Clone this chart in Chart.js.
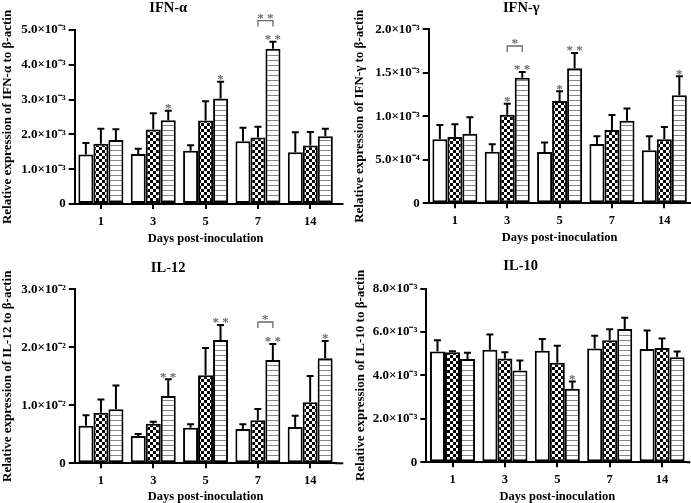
<!DOCTYPE html>
<html>
<head>
<meta charset="utf-8">
<script src="https://cdn.jsdelivr.net/npm/chart.js@4.4.0/dist/chart.umd.min.js"></script>
<style>
  html, body { margin: 0; padding: 0; background: #fff; }
  #wrap { position: relative; width: 691px; height: 503px; overflow: hidden; }
  canvas { position: absolute; }
</style>
</head>
<body>
<div id="wrap">
  <canvas id="c1" width="345" height="250" style="left:0;top:0"></canvas>
  <canvas id="c2" width="346" height="250" style="left:345px;top:0"></canvas>
  <canvas id="c3" width="345" height="253" style="left:0;top:250px"></canvas>
  <canvas id="c4" width="346" height="253" style="left:345px;top:250px"></canvas>
</div>
<script>
// Days post-inoculation (shared x categories)
const days = ['1', '3', '5', '7', '14'];

// IFN-alpha
const ifnaWhite = [1.42e-3, 1.44e-3, 1.53e-3, 1.80e-3, 1.49e-3];
const ifnaWhiteErr = [0.33e-3, 0.15e-3, 0.16e-3, 0.39e-3, 0.57e-3];
const ifnaCheck = [1.73e-3, 2.14e-3, 2.40e-3, 1.91e-3, 1.68e-3];
const ifnaCheckErr = [0.43e-3, 0.47e-3, 0.55e-3, 0.31e-3, 0.39e-3];
const ifnaStripe = [1.84e-3, 2.41e-3, 3.03e-3, 4.46e-3, 1.95e-3];
const ifnaStripeErr = [0.31e-3, 0.27e-3, 0.48e-3, 0.20e-3, 0.21e-3];
const ifnaCheckSig = ['', '', '', '', ''];
const ifnaStripeSig = ['', '*', '*', '**', ''];
const ifnaTicks = [0, 1e-3, 2e-3, 3e-3, 4e-3, 5e-3];
const ifnaTickLabels = ['0', '1.0×10⁻³', '2.0×10⁻³', '3.0×10⁻³', '4.0×10⁻³', '5.0×10⁻³'];

// IFN-gamma
const ifngWhite = [0.735e-3, 0.593e-3, 0.59e-3, 0.682e-3, 0.61e-3];
const ifngWhiteErr = [0.165e-3, 0.085e-3, 0.11e-3, 0.088e-3, 0.16e-3];
const ifngCheck = [0.762e-3, 1.019e-3, 1.176e-3, 0.843e-3, 0.735e-3];
const ifngCheckErr = [0.146e-3, 0.126e-3, 0.111e-3, 0.172e-3, 0.142e-3];
const ifngStripe = [0.80e-3, 1.444e-3, 1.551e-3, 0.95e-3, 1.241e-3];
const ifngStripeErr = [0.188e-3, 0.066e-3, 0.176e-3, 0.14e-3, 0.219e-3];
const ifngCheckSig = ['', '*', '*', '', ''];
const ifngStripeSig = ['', '**', '**', '', '*'];
const ifngTicks = [0, 0.5e-3, 1.0e-3, 1.5e-3, 2.0e-3];
const ifngTickLabels = ['0', '5.0×10⁻⁴', '1.0×10⁻³', '1.5×10⁻³', '2.0×10⁻³'];

// IL-12
const il12White = [0.648e-2, 0.47e-2, 0.614e-2, 0.59e-2, 0.626e-2];
const il12WhiteErr = [0.182e-2, 0.035e-2, 0.058e-2, 0.082e-2, 0.194e-2];
const il12Check = [0.872e-2, 0.683e-2, 1.517e-2, 0.741e-2, 1.052e-2];
const il12CheckErr = [0.228e-2, 0.034e-2, 0.473e-2, 0.195e-2, 0.453e-2];
const il12Stripe = [0.93e-2, 1.16e-2, 2.126e-2, 1.78e-2, 1.81e-2];
const il12StripeErr = [0.41e-2, 0.29e-2, 0.259e-2, 0.277e-2, 0.298e-2];
const il12CheckSig = ['', '', '', '', ''];
const il12StripeSig = ['', '**', '**', '**', '*'];
const il12Ticks = [0, 1e-2, 2e-2, 3e-2];
const il12TickLabels = ['0', '1.0×10⁻²', '2.0×10⁻²', '3.0×10⁻²'];

// IL-10
const il10White = [5.10e-3, 5.18e-3, 5.13e-3, 5.24e-3, 5.22e-3];
const il10WhiteErr = [0.52e-3, 0.70e-3, 0.54e-3, 0.58e-3, 0.85e-3];
const il10Check = [5.07e-3, 4.78e-3, 4.58e-3, 5.62e-3, 5.26e-3];
const il10CheckErr = [0.04e-3, 0.28e-3, 0.78e-3, 0.51e-3, 0.44e-3];
const il10Stripe = [4.75e-3, 4.23e-3, 3.38e-3, 6.14e-3, 4.83e-3];
const il10StripeErr = [0.29e-3, 0.46e-3, 0.34e-3, 0.51e-3, 0.27e-3];
const il10CheckSig = ['', '', '', '', ''];
const il10StripeSig = ['', '', '*', '', ''];
const il10Ticks = [0, 2e-3, 4e-3, 6e-3, 8e-3];
const il10TickLabels = ['0', '2.0×10⁻³', '4.0×10⁻³', '6.0×10⁻³', '8.0×10⁻³'];

// brackets between check and stripe bars: [day index, label, height]
const ifnaBrackets = [[3, '**', 5.27e-3]];
const ifngBrackets = [[1, '*', 1.808e-3]];
const il12Brackets = [[3, '*', 2.436e-2]];
const il10Brackets = [];

const SERIF = '"Liberation Serif", "Times New Roman", serif';
const SIG_COLOR = '#6a6a6a';

function checkerPattern() {
  const c = document.createElement('canvas');
  c.width = 6; c.height = 6;
  const g = c.getContext('2d');
  g.fillStyle = '#fff';
  g.fillRect(0, 0, 6, 6);
  g.fillStyle = '#000';
  g.fillRect(0, 0, 3, 3);
  g.fillRect(3, 3, 3, 3);
  return g.createPattern(c, 'repeat');
}

function stripePattern() {
  const c = document.createElement('canvas');
  c.width = 4; c.height = 5;
  const g = c.getContext('2d');
  g.fillStyle = '#fff';
  g.fillRect(0, 0, 4, 5);
  g.fillStyle = '#858585';
  g.fillRect(0, 0, 4, 1);
  return g.createPattern(c, 'repeat');
}

// error bars, asterisks and brackets
const annotations = {
  id: 'annotations',
  afterDatasetsDraw(chart) {
    const ctx = chart.ctx;
    const yScale = chart.scales.y;
    ctx.save();
    chart.data.datasets.forEach((ds, i) => {
      const meta = chart.getDatasetMeta(i);
      meta.data.forEach((bar, j) => {
        const top = yScale.getPixelForValue(ds.data[j] + ds.errors[j]);
        ctx.strokeStyle = '#000';
        ctx.lineWidth = 2;
        ctx.beginPath();
        ctx.moveTo(bar.x, bar.y);
        ctx.lineTo(bar.x, top);
        ctx.moveTo(bar.x - 3.5, top);
        ctx.lineTo(bar.x + 3.5, top);
        ctx.stroke();
        const sig = ds.sig[j];
        if (sig) {
          ctx.fillStyle = SIG_COLOR;
          ctx.font = 'bold 13px ' + SERIF;
          ctx.textAlign = 'center';
          ctx.textBaseline = 'middle';
          ctx.fillText(sig.split('').join(' '), bar.x, top - 2);
        }
      });
    });
    const brackets = chart.options.plugins.annotations.brackets;
    brackets.forEach(([idx, label, value]) => {
      const a = chart.getDatasetMeta(1).data[idx];
      const b = chart.getDatasetMeta(2).data[idx];
      const y = yScale.getPixelForValue(value);
      ctx.strokeStyle = SIG_COLOR;
      ctx.lineWidth = 1.3;
      ctx.beginPath();
      ctx.moveTo(a.x, y + 6);
      ctx.lineTo(a.x, y);
      ctx.lineTo(b.x, y);
      ctx.lineTo(b.x, y + 6);
      ctx.stroke();
      ctx.fillStyle = SIG_COLOR;
      ctx.font = 'bold 13px ' + SERIF;
      ctx.textAlign = 'center';
      ctx.textBaseline = 'middle';
      ctx.fillText(label.split('').join(' '), (a.x + b.x) / 2, y - 2);
    });
    // x axis line runs a little past the last group
    const ext = chart.options.plugins.annotations.extend;
    if (ext) {
      const area = chart.chartArea;
      ctx.strokeStyle = '#000';
      ctx.lineWidth = 2;
      ctx.beginPath();
      ctx.moveTo(area.right - 1, area.bottom);
      ctx.lineTo(area.right + ext, area.bottom);
      ctx.stroke();
    }
    ctx.restore();
  }
};

function makePanel(id, p) {
  const ctx = document.getElementById(id);
  const bar = (data, errors, sig, fill) => ({
    data: data,
    errors: errors,
    sig: sig,
    backgroundColor: fill,
    borderColor: '#000',
    borderWidth: 2,
    borderSkipped: false,
    barPercentage: 1,
    categoryPercentage: 0.86
  });
  return new Chart(ctx, {
    type: 'bar',
    data: {
      labels: days,
      datasets: [
        bar(p.white, p.whiteErr, ['', '', '', '', ''], '#fff'),
        bar(p.check, p.checkErr, p.checkSig, checkerPattern()),
        bar(p.stripe, p.stripeErr, p.stripeSig, stripePattern())
      ]
    },
    plugins: [annotations],
    options: {
      responsive: false,
      animation: false,
      layout: { padding: p.padding },
      plugins: {
        legend: { display: false },
        tooltip: { enabled: false },
        title: {
          display: true,
          text: p.title,
          color: '#000',
          font: { family: SERIF, size: 14.5, weight: 'bold' },
          padding: p.titlePad
        },
        annotations: { brackets: p.brackets, extend: p.extend }
      },
      scales: {
        x: {
          grid: { display: true, drawOnChartArea: false, offset: false, tickLength: 5, color: '#000', lineWidth: 2 },
          border: { display: true, color: '#000', width: 2 },
          ticks: { color: '#000', padding: 5, font: { family: SERIF, size: 12.5, weight: 'bold' } },
          title: {
            display: true,
            text: 'Days post-inoculation',
            color: '#000',
            font: { family: SERIF, size: 12.5, weight: 'bold' },
            padding: { top: 0, bottom: p.xTitlePad }
          },
          afterFit: (scale) => { scale.height = p.xHeight; }
        },
        y: {
          min: 0,
          max: p.ticks[p.ticks.length - 1],
          grid: { display: true, drawOnChartArea: false, tickLength: 6, color: '#000', lineWidth: 2 },
          border: { display: true, color: '#000', width: 2 },
          afterBuildTicks: (scale) => { scale.ticks = p.ticks.map(v => ({ value: v })); },
          ticks: {
            color: '#000',
            padding: 3,
            font: { family: SERIF, size: 13, weight: 'bold' },
            callback: (value, index) => p.tickLabels[index]
          },
          title: {
            display: true,
            text: p.yTitle,
            color: '#000',
            font: { family: SERIF, size: 13, weight: 'bold' },
            padding: { top: 0, bottom: 0 }
          },
          afterFit: (scale) => { scale.width = p.yWidth; }
        }
      }
    }
  });
}

makePanel('c1', {
  title: 'IFN-α', yTitle: 'Relative expression of IFN-α to β-actin',
  white: ifnaWhite, whiteErr: ifnaWhiteErr, check: ifnaCheck, checkErr: ifnaCheckErr,
  stripe: ifnaStripe, stripeErr: ifnaStripeErr, checkSig: ifnaCheckSig, stripeSig: ifnaStripeSig,
  ticks: ifnaTicks, tickLabels: ifnaTickLabels, brackets: ifnaBrackets,
  padding: { left: 0, right: 8.5, top: 0, bottom: 0 },
  titlePad: { top: 0, bottom: 12.6 }, yWidth: 74.7, xHeight: 46, xTitlePad: 3.6, extend: 7
});

makePanel('c2', {
  title: 'IFN-γ', yTitle: 'Relative expression of IFN-γ to β-actin',
  white: ifngWhite, whiteErr: ifngWhiteErr, check: ifngCheck, checkErr: ifngCheckErr,
  stripe: ifngStripe, stripeErr: ifngStripeErr, checkSig: ifngCheckSig, stripeSig: ifngStripeSig,
  ticks: ifngTicks, tickLabels: ifngTickLabels, brackets: ifngBrackets,
  padding: { left: 7, right: 0.5, top: 0, bottom: 0 },
  titlePad: { top: 0, bottom: 11.9 }, yWidth: 76.7, xHeight: 46.7, xTitlePad: 4.6, extend: 0
});

makePanel('c3', {
  title: 'IL-12', yTitle: 'Relative expression of IL-12 to β-actin',
  white: il12White, whiteErr: il12WhiteErr, check: il12Check, checkErr: il12CheckErr,
  stripe: il12Stripe, stripeErr: il12StripeErr, checkSig: il12CheckSig, stripeSig: il12StripeSig,
  ticks: il12Ticks, tickLabels: il12TickLabels, brackets: il12Brackets,
  padding: { left: 0, right: 8.7, top: 0, bottom: 0 },
  titlePad: { top: 9.3, bottom: 12.6 }, yWidth: 74.8, xHeight: 39.7, xTitlePad: -1.5, extend: 7
});

makePanel('c4', {
  title: 'IL-10', yTitle: 'Relative expression of IL-10 to β-actin',
  white: il10White, whiteErr: il10WhiteErr, check: il10Check, checkErr: il10CheckErr,
  stripe: il10Stripe, stripeErr: il10StripeErr, checkSig: il10CheckSig, stripeSig: il10StripeSig,
  ticks: il10Ticks, tickLabels: il10TickLabels, brackets: il10Brackets,
  padding: { left: 8, right: 2.7, top: 0, bottom: 0 },
  titlePad: { top: 7.3, bottom: 13.8 }, yWidth: 73.3, xHeight: 40.7, xTitlePad: -1.5, extend: 2
});
</script>
</body>
</html>
